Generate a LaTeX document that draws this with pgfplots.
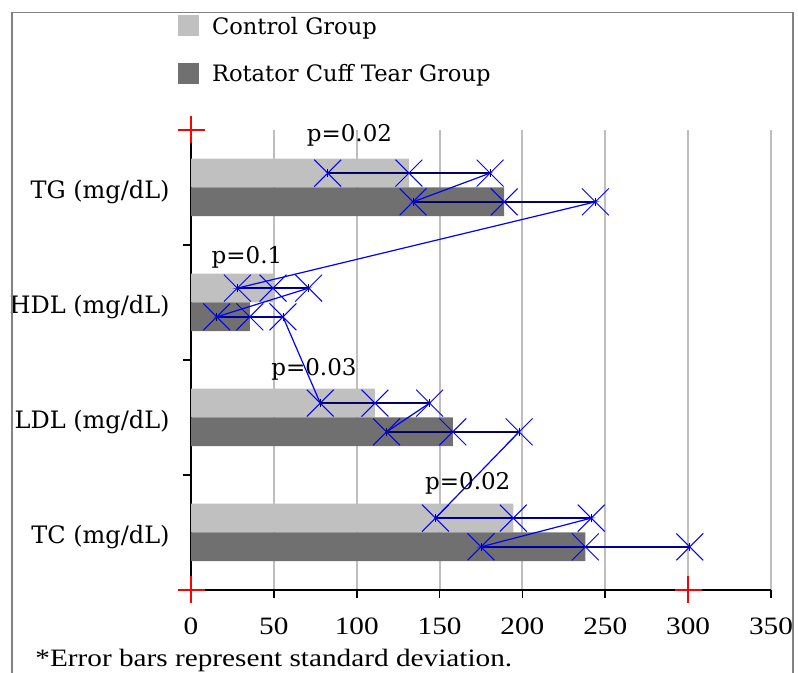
\documentclass[border=0pt]{standalone}
\usepackage{fontspec}
\setmainfont{DejaVu Serif}
\newfontfamily\tickfont{Liberation Serif}[FakeStretch=1.17]
\usepackage{pgfplots}
\pgfplotsset{compat=1.18}
\definecolor{ctrl}{RGB}{192,192,192}
\definecolor{rct}{RGB}{112,112,112}
\definecolor{gridgray}{RGB}{190,190,190}
\definecolor{framegray}{RGB}{130,130,130}

\begin{document}
\begin{tikzpicture}
\begin{axis}[
  at={(95.5pt,41.5pt)}, anchor=south west,
  scale only axis, width=290pt, height=230pt,
  xbar, bar width=0.25,
  xmin=0, xmax=350, ymin=-0.5, ymax=3.5,
  xtick={0,50,...,350},
  /pgf/number format/assume math mode=true,
  ytick={-0.5,0.5,1.5,2.5,3.5}, yticklabels={},
  extra y ticks={0,1,2,3},
  extra y tick labels={TC (mg/dL),LDL (mg/dL),HDL (mg/dL),TG (mg/dL)},
  extra y tick style={major tick length=0pt},
  axis x line*=bottom, axis y line*=left,
  axis line style={black, line width=0.9pt, -},
  tick align=outside, major tick length=4pt,
  tick style={black, line width=0.8pt},
  xmajorgrids, major grid style={gridgray, line width=1pt},
  xticklabel style={font=\tickfont\fontsize{12.5}{14}\selectfont, inner sep=0pt, anchor=north, yshift=-9.5pt},
  yticklabel style={font=\fontsize{12}{14}\selectfont, inner sep=0pt, anchor=east, xshift=-10.5pt, yshift=-2.5pt},
  clip=false,
  legend style={at={(-0.0224,1.25)}, anchor=north west, draw=none, fill=none,
    inner sep=0pt, outer sep=0pt, row sep=12.9pt,
    font=\fontsize{11.3}{13}\selectfont, nodes={inner sep=0pt},
    /tikz/every odd column/.append style={column sep=6.5pt}},
  legend cell align=left,
  legend image code/.code={\path[fill, #1] (0pt,-4.5pt) rectangle (10.5pt,6pt);},
]
% control group
\addplot[fill=ctrl, draw=none, bar shift=0.125,
  error bars/.cd, x dir=both, x explicit, error bar style={black, line width=0.9pt}]
  coordinates {(194.5,0) +- (47,0) (111,1) +- (33,0) (49.5,2) +- (21.5,0) (131.5,3) +- (49,0)};
% rotator cuff tear group
\addplot[fill=rct, draw=none, bar shift=-0.125,
  error bars/.cd, x dir=both, x explicit, error bar style={black, line width=0.9pt}]
  coordinates {(238,0) +- (63,0) (158,1) +- (40,0) (35.5,2) +- (20,0) (189,3) +- (55,0)};
\legend{Control Group, Rotator Cuff Tear Group}
% blue connecting line through the error bar ends
\addplot[sharp plot, blue, line width=0.6pt, mark=x, mark size=9.5pt, mark options={line width=0.5pt}]
  coordinates {
  (82.5,3.125) (131.5,3.125) (180.5,3.125) (134,2.875) (189,2.875) (244,2.875)
  (28,2.125) (49.5,2.125) (71,2.125) (15.5,1.875) (35.5,1.875) (55.5,1.875)
  (78,1.125) (111,1.125) (144,1.125) (118,0.875) (158,0.875) (198,0.875)
  (147.5,0.125) (194.5,0.125) (241.5,0.125) (175,-0.125) (238,-0.125) (301,-0.125)};
% red corner markers
\addplot[only marks, red, mark=+, mark size=6.75pt, mark options={line width=0.7pt}]
  coordinates {(0,3.5) (0,-0.5) (300,-0.5)};
\node[anchor=base, inner sep=0pt, font=\fontsize{11.5}{13}\selectfont] at (axis cs:95.6,3.396) {p=0.02};
\node[anchor=base, inner sep=0pt, font=\fontsize{11.5}{13}\selectfont] at (axis cs:33.8,2.343) {p=0.1};
\node[anchor=base, inner sep=0pt, font=\fontsize{11.5}{13}\selectfont] at (axis cs:74.2,1.361) {p=0.03};
\node[anchor=base, inner sep=0pt, font=\fontsize{11.5}{13}\selectfont] at (axis cs:167,0.378) {p=0.02};
\end{axis}
\draw[framegray, line width=0.9pt] (6pt,0) -- (6pt,330.2pt) -- (396.5pt,330.2pt) -- (396.5pt,0);
\node[anchor=base west, inner sep=0pt, font=\tickfont\fontsize{12.5}{14}\selectfont] at (17.5pt,3pt) {*Error bars represent standard deviation.};
\pgfresetboundingbox
\path[use as bounding box] (0,0) rectangle (399pt,336.5pt);
\end{tikzpicture}
\end{document}
